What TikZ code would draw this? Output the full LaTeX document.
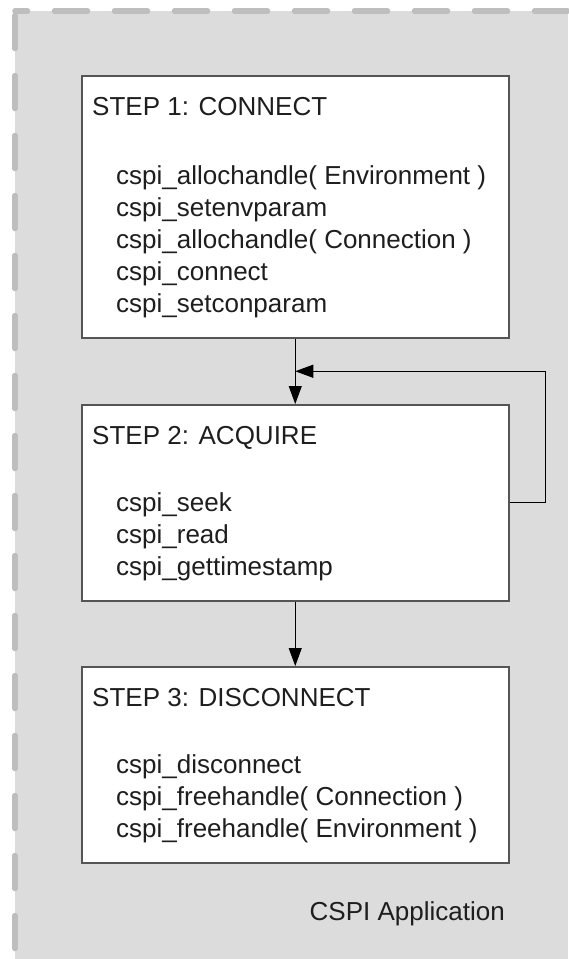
\documentclass[tikz,border=0pt]{standalone}
\usepackage{fontspec}
\setmainfont{Liberation Sans}
\usetikzlibrary{arrows.meta,calc}
\definecolor{bgfill}{HTML}{DCDCDC}
\definecolor{dashgray}{HTML}{BEBEBE}
\definecolor{boxline}{HTML}{555555}
\definecolor{txt}{HTML}{1E1E1E}
\begin{document}
\begin{tikzpicture}[x=1pt,y=-1pt,
  stepbox/.style={draw=boxline, line width=1.5pt, fill=white, rectangle, inner sep=0pt, minimum width=427pt, anchor=north west},
  lbl/.style={anchor=base west, inner sep=0pt, font=\fontsize{26}{31}\selectfont, text=txt},
  arr/.style={draw=black, line width=1pt, -{Triangle[length=18pt,width=13pt]}},
  border/.style={dashgray, line width=5.5pt, line cap=round, dash pattern=on 33pt off 27pt}
]
\useasboundingbox (0,0) rectangle (568,959);
\fill[bgfill] (15,11) rectangle (568,959);
\draw[border] (15,15.5) -- (15,962);
\draw[border, dash phase=20.5pt] (15,11) -- (570,11);

% boxes
\node[stepbox, minimum height=262pt] (b1) at (81,75) {};
\node[stepbox, minimum height=196pt] (b2) at (81,404) {};
\node[stepbox, minimum height=196pt] (b3) at (81,666) {};

% box 1 text
\node[lbl] (t1) at (92,115) {STEP 1: CONNECT};
\node[lbl] (t1a) at (116,184) {cspi\_allochandle( Environment )};
\node[lbl] (t1b) at (116,216) {cspi\_setenvparam};
\node[lbl] (t1c) at (116,248) {cspi\_allochandle( Connection )};
\node[lbl] (t1d) at (116,280) {cspi\_connect};
\node[lbl] (t1e) at (116,312) {cspi\_setconparam};

% box 2 text
\node[lbl] (t2) at (92,444) {STEP 2: ACQUIRE};
\node[lbl] (t2a) at (116,511) {cspi\_seek};
\node[lbl] (t2b) at (116,543) {cspi\_read};
\node[lbl] (t2c) at (116,575) {cspi\_gettimestamp};

% box 3 text
\node[lbl] (t3) at (92,706) {STEP 3: DISCONNECT};
\node[lbl] (t3a) at (116,773) {cspi\_disconnect};
\node[lbl] (t3b) at (116,805) {cspi\_freehandle( Connection )};
\node[lbl] (t3c) at (116,837) {cspi\_freehandle( Environment )};

\node[lbl, anchor=base east] (app) at (505,920) {CSPI Application};

% connectors
\coordinate (j) at ($(b1.south)!0.5!(b2.north)$);
\draw[arr] (b1.south) -- (b2.north);
\draw[arr] (b2.south) -- (b3.north);
\draw[arr] (b2.east) -- ++(36,0) |- (j);
\end{tikzpicture}
\end{document}
